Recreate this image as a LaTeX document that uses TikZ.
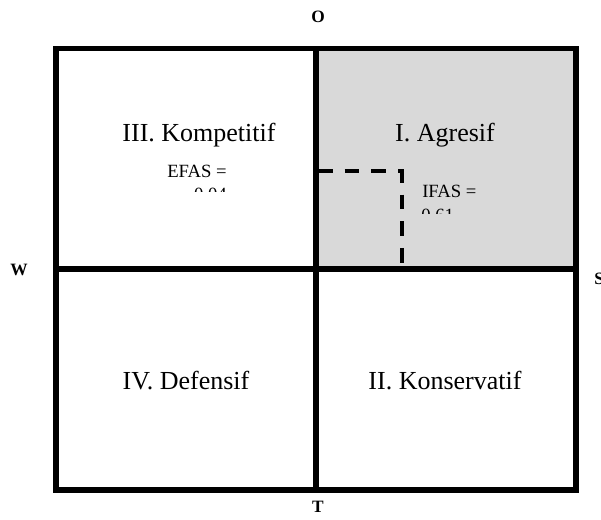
\documentclass[tikz,border=0pt]{standalone}
\usepackage{fontspec}
\setmainfont{Liberation Serif}
\begin{document}
\begin{tikzpicture}[x=0.75pt,y=-0.75pt,
  frame/.style={line width=3.8pt,line cap=rect},
  axis/.style={line width=3.8pt},
  dashline/.style={line width=3pt,dash pattern=on 11pt off 9pt},
  quad/.style={font=\fontsize{19.5}{22}\selectfont},
  small/.style={font=\fontsize{14}{17}\selectfont,inner sep=0pt},
  pole/.style={font=\fontsize{13}{15}\selectfont\bfseries,inner sep=0pt}]
\useasboundingbox (0,0) rectangle (601,520);
\fill[fill={rgb,255:red,217;green,217;blue,217}] (316,48.5) rectangle (576,269);
\coordinate (tl) at (56,48.5);
\coordinate (br) at (576,490);
\coordinate (ctop) at (316,48.5);
\coordinate (cbot) at (316,490);
\coordinate (cleft) at (56,269);
\coordinate (cright) at (576,269);
\coordinate (d1) at (318,171.5);
\coordinate (d2) at (401.5,171.5);
\coordinate (d3) at (401.5,269);
\draw[dashline] (d1) -- (d2) -- (d3);
\draw[frame] (tl) rectangle (br);
\draw[axis] (ctop) -- (cbot);
\draw[axis] (cleft) -- (cright);
\node[quad] (q3) at (199,135) {III. Kompetitif};
\node[quad] (q1) at (445,135) {I. Agresif};
\node[quad] (q4) at (186,381) {IV. Defensif};
\node[quad] (q2) at (445,381) {II. Konservatif};
\begin{scope}
\clip (150,150) rectangle (250,192);
\node[small,anchor=base west] (efas) at (167,178) {EFAS =};
\node[small,anchor=base east] (efasv) at (227,201) {0,04};
\end{scope}
\begin{scope}
\clip (405,175) rectangle (500,213.5);
\node[small,anchor=base west] (ifas) at (422,198) {IFAS =};
\node[small,anchor=base west] (ifasv) at (421,222) {0,61};
\end{scope}
\node[pole,anchor=base] (o) at (318,23) {O};
\node[pole,anchor=base] (t) at (318,513) {T};
\node[pole,anchor=base] (w) at (19,276) {W};
\node[pole,anchor=base west] (s) at (594,285) {S};
\end{tikzpicture}
\end{document}
